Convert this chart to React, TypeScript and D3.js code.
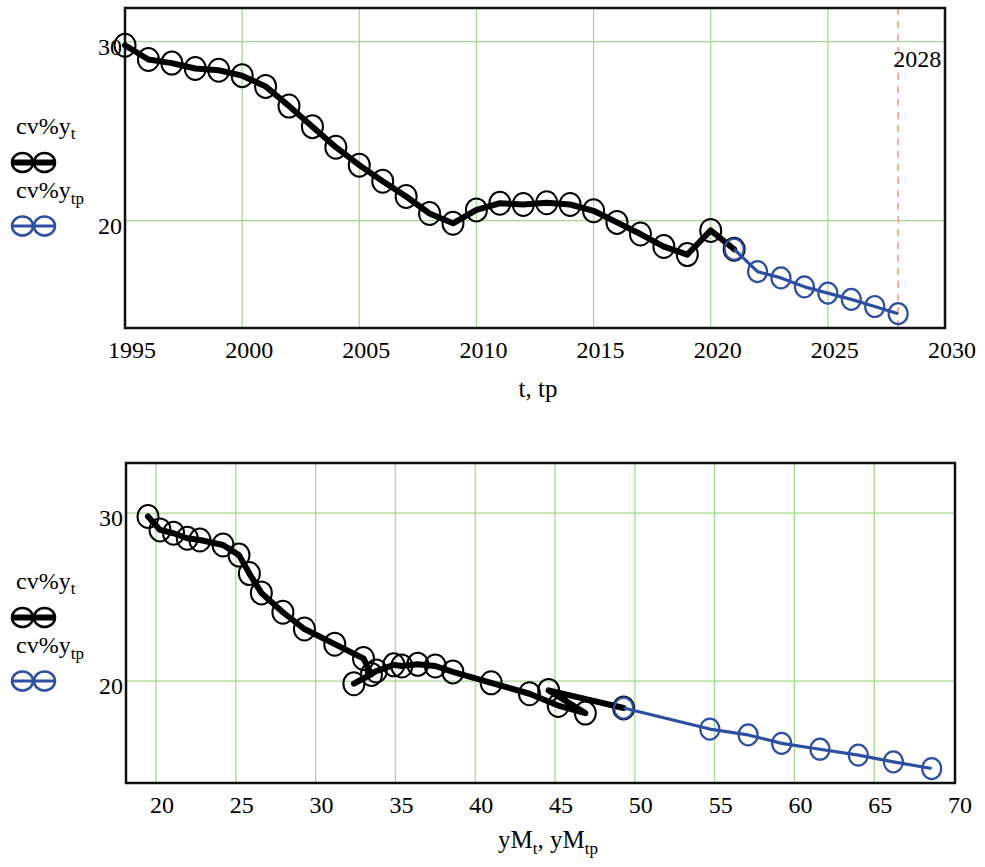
import * as d3 from "d3";

type Pt = [number, number];

// actual period
const years = [
  1995, 1996, 1997, 1998, 1999, 2000, 2001, 2002, 2003, 2004, 2005, 2006,
  2007, 2008, 2009, 2010, 2011, 2012, 2013, 2014, 2015, 2016, 2017, 2018,
  2019, 2020, 2021,
];
const cvActual = [
  29.8, 29.0, 28.8, 28.5, 28.4, 28.1, 27.5, 26.4, 25.25, 24.1, 23.1, 22.2,
  21.35, 20.4, 19.85, 20.6, 20.97, 20.9, 21.0, 20.9, 20.55, 19.9, 19.25, 18.55,
  18.1, 19.45, 18.4,
];
const yMActual = [
  19.5, 20.25, 21.1, 21.96, 22.75, 24.2, 25.2, 25.85, 26.6, 27.95, 29.3, 31.2,
  33.0, 33.5, 32.4, 33.8, 34.9, 35.4, 36.4, 37.5, 38.6, 41.0, 43.4, 45.2,
  46.9, 44.6, 49.3,
];

// forecast period
const forecastYears = [2021, 2022, 2023, 2024, 2025, 2026, 2027, 2028];
const cvForecast = [18.4, 17.15, 16.8, 16.3, 15.95, 15.6, 15.2, 14.8];
const yMForecast = [49.3, 54.7, 57.1, 59.2, 61.6, 64.0, 66.2, 68.6];

const yearTicks = [1995, 2000, 2005, 2010, 2015, 2020, 2025, 2030];
const yMTicks = [20, 25, 30, 35, 40, 45, 50, 55, 60, 65, 70];
const cvTicks = [20, 30];
const markerYear = 2028;

const FONT = "Liberation Serif, Times New Roman, Times, DejaVu Serif, serif";
const GRID = "#a3d78f";
const BLUE = "#2c4fa3";
const RED = "#ef9a86";

const txt = { fontFamily: FONT };

const zip = (a: number[], b: number[]) => a.map((v, i) => [v, b[i]] as Pt);

function Legend({ top }: { top: number }) {
  return (
    <g style={txt} fontSize={24}>
      <text x={16} y={top + 126} style={txt}>
        cv%y
        <tspan dy={5} fontSize={17}>t</tspan>
      </text>
      <line x1={11} x2={55} y1={top + 154.5} y2={top + 154.5} stroke="#000" strokeWidth={6} />
      {[22.5, 44.5].map((cx) => (
        <ellipse key={cx} cx={cx} cy={top + 154.5} rx={10.5} ry={9.5} fill="none" stroke="#000" strokeWidth={2.5} />
      ))}
      <text x={16} y={top + 190} style={txt}>
        cv%y
        <tspan dy={6} fontSize={17}>tp</tspan>
      </text>
      <line x1={11} x2={55} y1={top + 218} y2={top + 218} stroke={BLUE} strokeWidth={3} />
      {[22.5, 44.5].map((cx) => (
        <ellipse key={cx} cx={cx} cy={top + 218} rx={10.5} ry={9.5} fill="none" stroke={BLUE} strokeWidth={2.5} />
      ))}
    </g>
  );
}

function Panel({
  box,
  xDomain,
  yDomain,
  xTicks,
  labelDx,
  actual,
  forecast,
  marker,
}: {
  box: { left: number; top: number; right: number; bottom: number };
  xDomain: [number, number];
  yDomain: [number, number];
  xTicks: number[];
  labelDx: number;
  actual: Pt[];
  forecast: Pt[];
  marker?: number;
}) {
  const x = d3.scaleLinear().domain(xDomain).range([box.left, box.right]);
  const y = d3.scaleLinear().domain(yDomain).range([box.bottom, box.top]);
  const line = d3
    .line<Pt>()
    .x((d) => x(d[0]))
    .y((d) => y(d[1]));

  const inner = xTicks.filter((t) => x(t) > box.left + 1 && x(t) < box.right - 1);

  return (
    <g>
      {inner.map((t) => (
        <line key={"gx" + t} x1={x(t)} x2={x(t)} y1={box.top} y2={box.bottom} stroke={GRID} strokeWidth={1.2} />
      ))}
      {cvTicks.map((t) => (
        <line key={"gy" + t} x1={box.left} x2={box.right} y1={y(t)} y2={y(t)} stroke={GRID} strokeWidth={1.2} />
      ))}
      {marker !== undefined && (
        <g>
          <line
            x1={x(marker)}
            x2={x(marker)}
            y1={box.top}
            y2={box.bottom}
            stroke={RED}
            strokeWidth={1.5}
            strokeDasharray="7,6"
          />
          <text x={x(marker) - 5} y={box.top + 59} style={txt} fontSize={24}>
            {marker}
          </text>
        </g>
      )}
      <rect
        x={box.left}
        y={box.top}
        width={box.right - box.left}
        height={box.bottom - box.top}
        fill="none"
        stroke="#111"
        strokeWidth={2.5}
      />
      {xTicks.map((t) => (
        <text
          key={"lx" + t}
          x={x(t) + labelDx}
          y={box.bottom + 30}
          textAnchor="middle"
          style={txt}
          fontSize={24}
        >
          {t}
        </text>
      ))}
      {cvTicks.map((t) => (
        <text key={"ly" + t} x={box.left - 3} y={y(t) + 13} textAnchor="end" style={txt} fontSize={24}>
          {t}
        </text>
      ))}

      <path d={line(actual)!} fill="none" stroke="#000" strokeWidth={6} strokeLinejoin="round" strokeLinecap="round" />
      {actual.map((d, i) => (
        <ellipse key={"a" + i} cx={x(d[0])} cy={y(d[1])} rx={10.5} ry={11.5} fill="none" stroke="#000" strokeWidth={2} />
      ))}
      <path d={line(forecast)!} fill="none" stroke={BLUE} strokeWidth={3.2} strokeLinejoin="round" />
      {forecast.map((d, i) => (
        <ellipse key={"f" + i} cx={x(d[0])} cy={y(d[1])} rx={9.5} ry={10.5} fill="none" stroke={BLUE} strokeWidth={2.2} />
      ))}
    </g>
  );
}

export default function App() {
  const topBox = { left: 125, top: 8, right: 945, bottom: 328 };
  const bottomBox = { left: 126, top: 463, right: 955, bottom: 783 };

  return (
    <svg
      width={985}
      height={867}
      viewBox="0 0 985 867"
      style={{ position: "absolute", left: 0, top: 0, background: "#fff" }}
    >
      <Legend top={topBox.top} />
      <Panel
        box={topBox}
        xDomain={[1995, 2030]}
        yDomain={[14.0, 31.88]}
        xTicks={yearTicks}
        labelDx={7}
        actual={zip(years, cvActual)}
        forecast={zip(forecastYears, cvForecast)}
        marker={markerYear}
      />
      <text x={538} y={397} textAnchor="middle" style={txt} fontSize={25}>
        t, tp
      </text>

      <Legend top={bottomBox.top} />
      <Panel
        box={bottomBox}
        xDomain={[18.12, 70.06]}
        yDomain={[13.94, 32.98]}
        xTicks={yMTicks}
        labelDx={6}
        actual={zip(yMActual, cvActual)}
        forecast={zip(yMForecast, cvForecast)}
      />
      <text x={548} y={848} textAnchor="middle" style={txt} fontSize={25}>
        yM
        <tspan dy={6} fontSize={17}>t</tspan>
        <tspan dy={-6}>, yM</tspan>
        <tspan dy={6} fontSize={17}>tp</tspan>
      </text>
    </svg>
  );
}
